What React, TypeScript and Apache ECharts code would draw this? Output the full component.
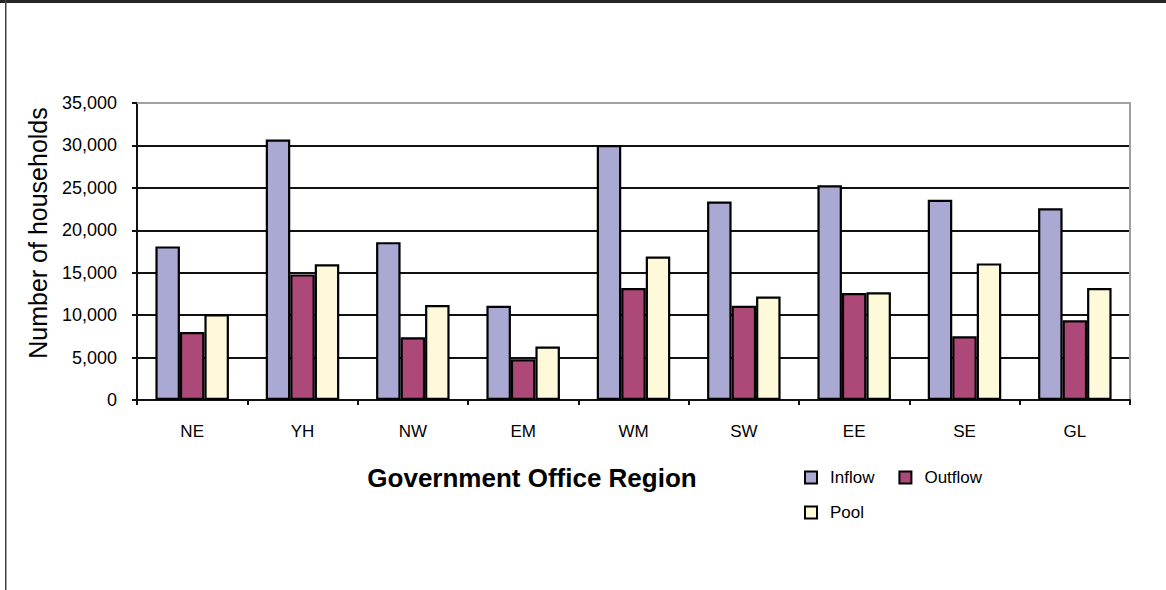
import React, { useEffect, useRef } from "react";
import * as echarts from "echarts";

const categories = ["NE", "YH", "NW", "EM", "WM", "SW", "EE", "SE", "GL"];
const inflow = [18100, 30700, 18600, 11100, 30050, 23400, 25300, 23600, 22600];
const outflow = [8000, 14800, 7400, 4800, 13200, 11100, 12600, 7500, 9400];
const pool = [10100, 16000, 11200, 6300, 16900, 12200, 12700, 16100, 13200];
const yTicks = { min: 0, max: 35000, interval: 5000 };

const FONT = "'Liberation Sans', Arial, sans-serif";

export default function App() {
  const ref = useRef<HTMLDivElement>(null);
  useEffect(() => {
    document.body.style.margin = "0";
    const chart = echarts.init(ref.current!, undefined, { renderer: "svg" });
    const barBorder = { borderColor: "#000", borderWidth: 2.2 };
    chart.setOption({
      animation: false,
      backgroundColor: "#fff",
      textStyle: { fontFamily: FONT, color: "#000" },
      grid: { left: 137, right: 36, top: 103, bottom: 190, containLabel: false },
      xAxis: [
        {
          type: "category",
          data: categories,
          position: "bottom",
          axisLine: { onZero: false, lineStyle: { color: "#111", width: 2 } },
          axisTick: { show: true, length: 5, lineStyle: { color: "#111", width: 2 } },
          axisLabel: { color: "#000", fontSize: 17, fontFamily: FONT, margin: 23 },
          splitLine: { show: false },
        },
        {
          type: "category",
          data: categories,
          position: "top",
          axisLine: { onZero: false, lineStyle: { color: "#a0a0a0", width: 2 } },
          axisTick: { show: false },
          axisLabel: { show: false },
          splitLine: { show: false },
        },
      ],
      yAxis: [
        {
          type: "value",
          min: yTicks.min,
          max: yTicks.max,
          interval: yTicks.interval,
          position: "left",
          axisLine: { show: true, onZero: false, lineStyle: { color: "#111", width: 2 } },
          axisTick: { show: true, length: 5, lineStyle: { color: "#111", width: 2 } },
          axisLabel: {
            color: "#000",
            fontSize: 18,
            fontFamily: FONT,
            margin: 20,
            formatter: (v: number) => v.toLocaleString("en-US"),
          },
          splitLine: { show: true, showMaxLine: false, lineStyle: { color: "#111", width: 2 } },
        },
        {
          type: "value",
          min: yTicks.min,
          max: yTicks.max,
          interval: yTicks.interval,
          position: "right",
          axisLine: { show: true, onZero: false, lineStyle: { color: "#a0a0a0", width: 2 } },
          axisTick: { show: false },
          axisLabel: { show: false },
          splitLine: { show: false },
        },
      ],
      legend: [
        {
          data: ["Inflow", "Outflow"],
          left: 799,
          top: 464,
          orient: "horizontal",
          itemWidth: 12,
          itemHeight: 12,
          itemGap: 24,
          icon: "rect",
          textStyle: { fontSize: 17, fontFamily: FONT, color: "#000", padding: [0, 0, 0, 8] },
        },
        {
          data: ["Pool"],
          left: 799,
          top: 499,
          orient: "horizontal",
          itemWidth: 12,
          itemHeight: 12,
          icon: "rect",
          textStyle: { fontSize: 17, fontFamily: FONT, color: "#000", padding: [0, 0, 0, 8] },
        },
      ],
      series: [
        {
          name: "Inflow",
          type: "bar",
          data: inflow,
          barWidth: 24.5,
          barGap: "0%",
          itemStyle: { color: "#aaa9d4", ...barBorder },
        },
        {
          name: "Outflow",
          type: "bar",
          data: outflow,
          barWidth: 24.5,
          barGap: "0%",
          itemStyle: { color: "#ac4979", ...barBorder },
        },
        {
          name: "Pool",
          type: "bar",
          data: pool,
          barWidth: 24.5,
          barGap: "0%",
          itemStyle: { color: "#fdf9d9", ...barBorder },
        },
      ],
      graphic: [
        { type: "rect", shape: { x: 0, y: 0, width: 1166, height: 3 }, style: { fill: "#262626" } },
        { type: "rect", shape: { x: 5, y: 0, width: 1.5, height: 590 }, style: { fill: "#444" } },
        {
          type: "text",
          x: 38,
          y: 233,
          rotation: Math.PI / 2,
          style: {
            text: "Number of households",
            fontSize: 25,
            fontFamily: FONT,
            fill: "#000",
            align: "center",
            verticalAlign: "middle",
          },
        },
        {
          type: "text",
          x: 532,
          y: 478,
          style: {
            text: "Government Office Region",
            fontSize: 26,
            fontWeight: "bold",
            fontFamily: FONT,
            fill: "#000",
            align: "center",
            verticalAlign: "middle",
          },
        },
      ],
    });
    return () => chart.dispose();
  }, []);
  return <div ref={ref} style={{ width: 1166, height: 590 }} />;
}
